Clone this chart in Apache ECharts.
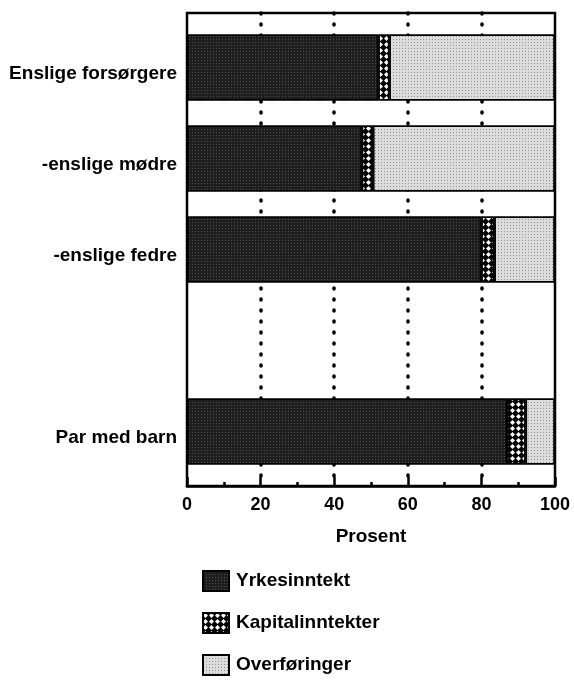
<!DOCTYPE html>
<html><head><meta charset="utf-8">
<script src="https://cdn.jsdelivr.net/npm/echarts@6/dist/echarts.min.js"></script>
<style>html,body{margin:0;padding:0;background:#fff}#c{width:574px;height:682px}</style>
</head><body><div id="c"></div>
<script>
const categories = ['Enslige forsørgere', '-enslige mødre', '-enslige fedre', '', 'Par med barn'];
const yrkesinntekt = [52, 47.5, 80, null, 87];
const kapitalinntekter = [3, 3, 3.5, null, 5];
const overforinger = [45, 49.5, 16.5, null, 8];
const xTicks = [0, 20, 40, 60, 80, 100];

const FONT = 'Liberation Sans';
const chart = echarts.init(document.getElementById('c'), null, {renderer: 'canvas'});
const border = {borderColor: '#000', borderWidth: 1.5};
chart.setOption({
  animation: false,
  backgroundColor: '#fff',
  grid: [
    {left: 187, top: 22, width: 368, height: 455, show: false},
    {left: 187, top: 13, width: 368, height: 473, show: true, borderColor: '#000', borderWidth: 2.5, backgroundColor: 'transparent', z: 3}
  ],
  legend: {
    orient: 'vertical', left: 202, top: 570, height: 112, padding: 0, itemGap: 20, itemWidth: 26, itemHeight: 20,
    icon: 'rect',
    textStyle: {fontFamily: FONT, fontWeight: 'bold', fontSize: 19, color: '#000', padding: [0, 0, 0, 2]},
    data: ['Yrkesinntekt', 'Kapitalinntekter', 'Overføringer']
  },
  xAxis: [
    {gridIndex: 0, type: 'value', min: 0, max: 100, show: false},
    {gridIndex: 1, type: 'value', min: 0, max: 100, interval: 20,
     axisLine: {show: true, lineStyle: {color: '#000', width: 2.5}},
     axisTick: {show: true, inside: true, length: 9, lineStyle: {color: '#000', width: 2.5}},
     minorTick: {show: true, splitNumber: 2, length: 4, lineStyle: {color: '#000', width: 2.5}},
     axisLabel: {margin: 10, fontFamily: FONT, fontWeight: 'bold', fontSize: 18, color: '#000',
       customValues: xTicks},
     splitLine: {show: true, showMinLine: false, showMaxLine: false,
       lineStyle: {color: '#000', width: 3.5, type: [1, 10], cap: 'round'}},
     name: 'Prosent', nameLocation: 'middle', nameGap: 41,
     nameTextStyle: {fontFamily: FONT, fontWeight: 'bold', fontSize: 19, color: '#000'}
    }
  ],
  yAxis: [
    {gridIndex: 0, type: 'category', inverse: true, data: categories,
     axisLine: {show: false}, axisTick: {show: false},
     axisLabel: {margin: 10, verticalAlign: 'top', lineHeight: 13, fontFamily: FONT, fontWeight: 'bold', fontSize: 19, color: '#000'}},
    {gridIndex: 1, type: 'value', min: 0, max: 1, show: false}
  ],
  series: [
    {name: 'Yrkesinntekt', type: 'bar', stack: 's', xAxisIndex: 0, yAxisIndex: 0, barWidth: 66,
     data: yrkesinntekt,
     itemStyle: Object.assign({color: '#1e1e1e', decal: {symbol: 'circle', color: 'rgba(255,255,255,0.3)', symbolSize: 1, dashArrayX: [1, 2], dashArrayY: [1, 2]}}, border)},
    {name: 'Kapitalinntekter', type: 'bar', stack: 's', xAxisIndex: 0, yAxisIndex: 0, barWidth: 66,
     data: kapitalinntekter,
     itemStyle: Object.assign({color: '#000', decal: {symbol: 'diamond', color: '#fff', symbolSize: 1, dashArrayX: [5, 1], dashArrayY: [5, 1]}}, border)},
    {name: 'Overføringer', type: 'bar', stack: 's', xAxisIndex: 0, yAxisIndex: 0, barWidth: 66,
     data: overforinger,
     itemStyle: Object.assign({color: '#dcdcdc', decal: {symbol: 'circle', color: 'rgba(0,0,0,0.45)', symbolSize: 1, dashArrayX: [1, 2], dashArrayY: [1, 2]}}, border)}
  ]
});
</script></body></html>
